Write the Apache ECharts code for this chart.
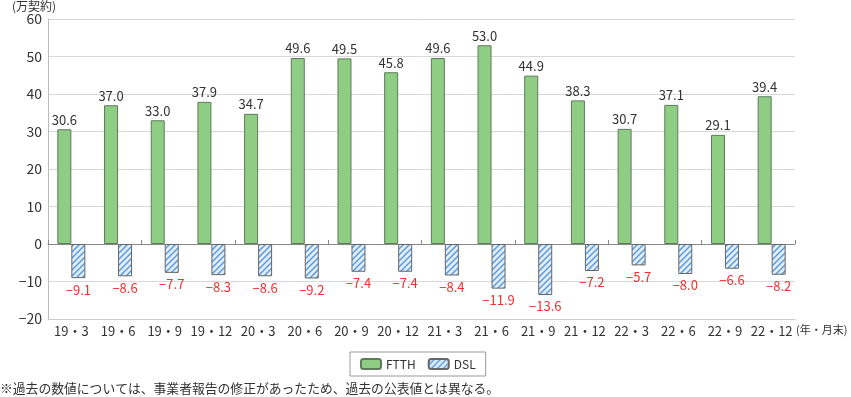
<!DOCTYPE html>
<html>
<head>
<meta charset="utf-8">
<script src="https://cdn.jsdelivr.net/npm/echarts@6/dist/echarts.min.js"></script>
<style>
  html, body { margin: 0; padding: 0; background: #fff; }
  #chart { width: 851px; height: 397px; }
</style>
</head>
<body>
<div id="chart"></div>
<script>
const categories = ['19・3', '19・6', '19・9', '19・12', '20・3', '20・6', '20・9', '20・12',
  '21・3', '21・6', '21・9', '21・12', '22・3', '22・6', '22・9', '22・12']
const ftth = [30.6, 37.0, 33.0, 37.9, 34.7, 49.6, 49.5, 45.8, 49.6, 53.0, 44.9, 38.3, 30.7, 37.1, 29.1, 39.4]
const dsl = [-9.1, -8.6, -7.7, -8.3, -8.6, -9.2, -7.4, -7.4, -8.4, -11.9, -13.6, -7.2, -5.7, -8.0, -6.6, -8.2]

const font = '"Noto Sans CJK JP", "Noto Sans", sans-serif'

// 斜線パターン (DSL)
function makeHatch() {
  const c = document.createElement('canvas')
  c.width = 6
  c.height = 6
  const ctx = c.getContext('2d')
  ctx.fillStyle = '#e2eefb'
  ctx.fillRect(0, 0, 6, 6)
  ctx.strokeStyle = '#5b9bd9'
  ctx.lineWidth = 1.5
  ctx.beginPath()
  ctx.moveTo(-1, 7); ctx.lineTo(7, -1)
  ctx.moveTo(-4, 4); ctx.lineTo(4, -4)
  ctx.moveTo(2, 10); ctx.lineTo(10, 2)
  ctx.stroke()
  return c
}

function minus(v, d) {
  return v < 0 ? '−' + Math.abs(v).toFixed(d) : v.toFixed(d)
}

const chart = echarts.init(document.getElementById('chart'))
chart.setOption({
  animation: false,
  textStyle: { fontFamily: font },
  grid: { left: 48, right: 56, top: 19, bottom: 78 },
  legend: {
    left: 350,
    top: 352,
    itemWidth: 20,
    itemHeight: 10,
    itemGap: 12,
    padding: [6, 10],
    borderColor: '#999',
    borderWidth: 1,
    textStyle: { fontSize: 12, color: '#333', fontFamily: font },
    data: ['FTTH', 'DSL']
  },
  xAxis: [
    {
      type: 'category',
      data: categories,
      position: 'bottom',
      axisLine: { onZero: false, lineStyle: { color: '#ccc' } },
      axisTick: { show: false },
      axisLabel: { color: '#333', fontSize: 13, margin: 6, interval: 0 }
    },
    {
      type: 'category',
      data: categories,
      position: 'top',
      axisLine: { onZero: true, lineStyle: { color: '#888' } },
      axisTick: { show: true, inside: false, length: 4, lineStyle: { color: '#888' } },
      axisLabel: { show: false }
    }
  ],
  yAxis: {
    type: 'value',
    min: -20,
    max: 60,
    interval: 10,
    axisLine: { show: true, lineStyle: { color: '#bbb' } },
    axisTick: { show: false },
    axisLabel: {
      color: '#333',
      fontSize: 14,
      margin: 6,
      formatter: (v) => minus(v, 0)
    },
    splitLine: { lineStyle: { color: '#d8d8d8' } }
  },
  series: [
    {
      name: 'FTTH',
      type: 'bar',
      data: ftth,
      barWidth: 14,
      barGap: '0%',
      itemStyle: { color: '#8fcd85', borderColor: '#5f7a5a', borderWidth: 1 },
      label: {
        show: true,
        position: 'top',
        color: '#333',
        fontSize: 13,
        distance: 3,
        formatter: (p) => p.value.toFixed(1)
      }
    },
    {
      name: 'DSL',
      type: 'bar',
      data: dsl,
      barWidth: 14,
      itemStyle: {
        color: { image: makeHatch(), repeat: 'repeat' },
        borderColor: '#666',
        borderWidth: 1
      },
      label: {
        show: true,
        position: 'bottom',
        color: '#f03030',
        fontSize: 13,
        distance: 5,
        formatter: (p) => minus(p.value, 1)
      }
    }
  ],
  graphic: [
    {
      type: 'text',
      left: 12,
      top: 0,
      style: { text: '(万契約)', fontSize: 12, fill: '#333', fontFamily: font }
    },
    {
      type: 'text',
      left: 796,
      top: 324,
      style: { text: '(年・月末)', fontSize: 11, fill: '#333', fontFamily: font }
    },
    {
      type: 'text',
      left: 0,
      top: 382,
      style: {
        text: '※過去の数値については、事業者報告の修正があったため、過去の公表値とは異なる。',
        fontSize: 12.8,
        fill: '#333',
        fontFamily: font
      }
    }
  ]
})
</script>
</body>
</html>
